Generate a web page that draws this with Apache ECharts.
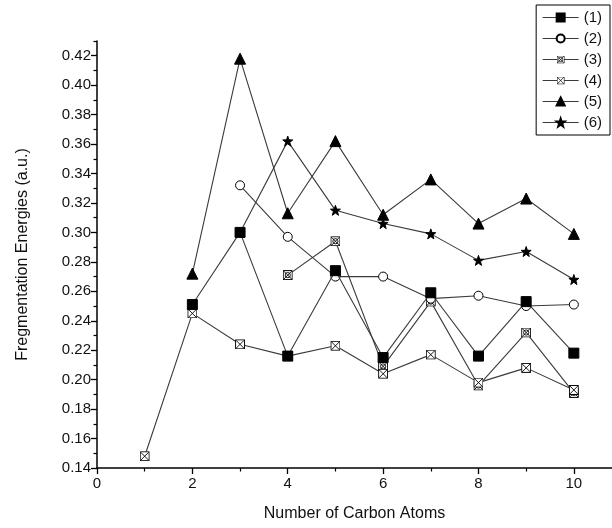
<!DOCTYPE html>
<html>
<head>
<meta charset="utf-8">
<script src="https://cdn.jsdelivr.net/npm/echarts@6/dist/echarts.min.js"></script>
<style>
  html, body { margin: 0; padding: 0; background: #fff; }
  #chart { width: 612px; height: 528px; }
</style>
</head>
<body>
<div id="chart"></div>
<script>
// number of carbon atoms on the x axis
const carbonAtoms = [1, 2, 3, 4, 5, 6, 7, 8, 9, 10];
const seriesNames = ["(1)", "(2)", "(3)", "(4)", "(5)", "(6)"];
const energies1 = [null, 0.251, 0.300, 0.216, 0.274, 0.215, 0.259, 0.216, 0.253, 0.218];
const energies2 = [null, null, 0.332, 0.297, 0.270, 0.270, 0.255, 0.257, 0.250, 0.251];
const energies3 = [null, null, null, 0.271, 0.294, 0.209, 0.253, 0.196, 0.232, 0.191];
const energies4 = [0.148, 0.245, 0.224, 0.216, 0.223, 0.204, 0.217, 0.198, 0.208, 0.193];
const energies5 = [null, 0.272, 0.418, 0.313, 0.362, 0.312, 0.336, 0.306, 0.323, 0.299];
const energies6 = [null, null, 0.300, 0.362, 0.315, 0.306, 0.299, 0.281, 0.287, 0.268];
const xTicks = [0, 2, 4, 6, 8, 10];
const xMinorTicks = [1, 3, 5, 7, 9];
const yTicks = [0.14, 0.16, 0.18, 0.20, 0.22, 0.24, 0.26, 0.28, 0.30, 0.32, 0.34, 0.36, 0.38, 0.40, 0.42];
const yMinorTicks = [0.15, 0.17, 0.19, 0.21, 0.23, 0.25, 0.27, 0.29, 0.31, 0.33, 0.35, 0.37, 0.39, 0.41, 0.43];

const font = "Arial, 'Liberation Sans', sans-serif";
const lineColor = "#3a3a3a";

function svgIcon(inner) {
  const svg = "<svg xmlns='http://www.w3.org/2000/svg' width='10' height='10'>" +
    "<rect x='0.5' y='0.5' width='9' height='9' fill='white' stroke='black'/>" + inner + "</svg>";
  return "image://data:image/svg+xml;charset=utf-8," + encodeURIComponent(svg);
}
const crossSquare = svgIcon("<path d='M1 1L9 9M9 1L1 9' stroke='black' stroke-width='0.9'/>");
const crossCircleSquare = svgIcon("<path d='M1 1L9 9M9 1L1 9' stroke='black' stroke-width='0.9'/>" +
  "<circle cx='5' cy='5' r='2.6' fill='none' stroke='black' stroke-width='0.9'/>");
const star = "path://M0,-10L2.35,-3.24L9.51,-3.09L3.8,1.24L5.88,8.09L0,4L-5.88,8.09L-3.8,1.24L-9.51,-3.09L-2.35,-3.24Z";

function pairs(values) {
  return carbonAtoms.map((x, i) => [x, values[i]]).filter((p) => p[1] !== null);
}

function makeSeries(name, values, symbol, size, extra) {
  return Object.assign({
    name: name,
    type: "line",
    data: pairs(values),
    symbol: symbol,
    symbolSize: size,
    showAllSymbol: true,
    lineStyle: { color: lineColor, width: 1.1 },
    itemStyle: { color: "#000", borderColor: "#000", borderWidth: 1 },
    emphasis: { disabled: true },
    z: 2,
  }, extra || {});
}

const chart = echarts.init(document.getElementById("chart"));
chart.setOption({
  animation: false,
  backgroundColor: "#fff",
  grid: { left: 97, right: 0, top: 41, bottom: 60 },
  legend: {
    orient: "vertical",
    right: 2,
    top: 5,
    padding: [5, 8, 5, 6],
    itemGap: 6,
    itemWidth: 36,
    itemHeight: 10,
    borderColor: "#000",
    borderWidth: 1,
    lineStyle: { width: 1 },
    textStyle: { fontFamily: font, fontSize: 15, color: "#111" },
    data: seriesNames,
  },
  xAxis: [
    {
      type: "value",
      min: 0,
      max: 10.8,
      name: "Number of Carbon Atoms",
      nameLocation: "middle",
      nameGap: 38,
      nameTextStyle: { fontFamily: font, fontSize: 16, color: "#111" },
      axisLine: { show: true, lineStyle: { color: "#000", width: 1.5 } },
      axisTick: { show: true, length: 6, customValues: xTicks, lineStyle: { color: "#000", width: 1.3 } },
      axisLabel: { fontFamily: font, fontSize: 15, color: "#111", margin: 8, customValues: xTicks },
      splitLine: { show: false },
    },
    {
      type: "value",
      min: 0,
      max: 10.8,
      position: "bottom",
      axisLine: { show: false },
      axisTick: { show: true, length: 3.5, customValues: xMinorTicks, lineStyle: { color: "#000", width: 1.2 } },
      axisLabel: { show: false },
      splitLine: { show: false },
    },
  ],
  yAxis: [
    {
      type: "value",
      min: 0.14,
      max: 0.43,
      name: "Fregmentation Energies (a.u.)",
      nameLocation: "middle",
      nameGap: 66,
      nameTextStyle: { fontFamily: font, fontSize: 16, color: "#111" },
      axisLine: { show: true, lineStyle: { color: "#000", width: 1.5 } },
      axisTick: { show: true, length: 6, customValues: yTicks, lineStyle: { color: "#000", width: 1.3 } },
      axisLabel: {
        fontFamily: font, fontSize: 15, color: "#111", margin: 6, customValues: yTicks,
        formatter: (v) => v.toFixed(2),
      },
      splitLine: { show: false },
    },
    {
      type: "value",
      min: 0.14,
      max: 0.43,
      position: "left",
      axisLine: { show: false },
      axisTick: { show: true, length: 3.5, customValues: yMinorTicks, lineStyle: { color: "#000", width: 1.2 } },
      axisLabel: { show: false },
      splitLine: { show: false },
    },
  ],
  series: [
    makeSeries(seriesNames[0], energies1, "rect", 10, { z: 4 }),
    makeSeries(seriesNames[1], energies2, "circle", 9, {
      itemStyle: { color: "#fff", borderColor: "#000", borderWidth: 1 }, z: 3,
    }),
    makeSeries(seriesNames[2], energies3, crossCircleSquare, 10),
    makeSeries(seriesNames[3], energies4, crossSquare, 10),
    makeSeries(seriesNames[4], energies5, "triangle", 11),
    makeSeries(seriesNames[5], energies6, star, 10),
  ],
});
</script>
</body>
</html>
